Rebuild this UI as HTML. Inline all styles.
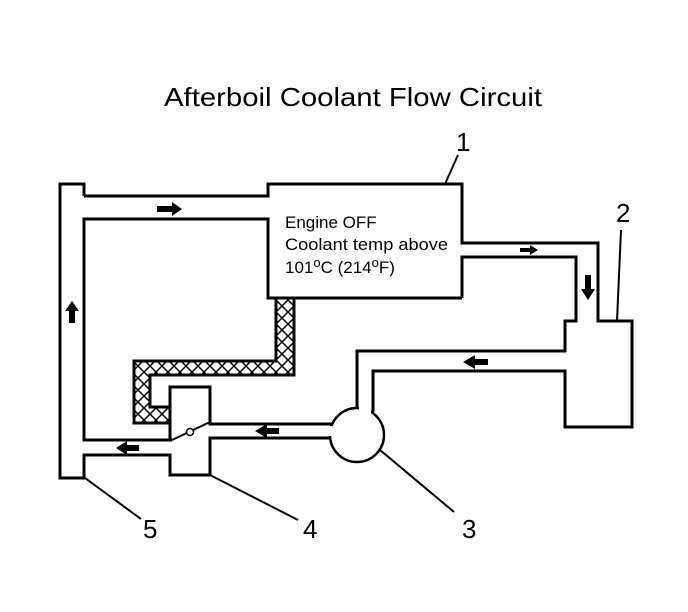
<!DOCTYPE html>
<html><head><meta charset="utf-8"><style>
html,body{margin:0;padding:0;background:#fff;}
svg{display:block;}
text{font-family:"Liberation Sans",Arial,sans-serif;fill:#000;}
</style></head><body>
<svg width="688" height="612" viewBox="0 0 688 612" xmlns="http://www.w3.org/2000/svg">
<defs>
<pattern id="x" width="12" height="12" patternUnits="userSpaceOnUse">
<path d="M0 0L12 12M12 0L0 12" stroke="#000" stroke-width="1.5"/>
</pattern>
</defs>
<text x="164" y="106" font-size="26" textLength="378" lengthAdjust="spacingAndGlyphs">Afterboil Coolant Flow Circuit</text>
<g fill="none" stroke="#000" stroke-width="3" stroke-linejoin="miter">
<path d="M84 196 L268 196 L268 184 L462 184 L462 243 L598 243 L598 321 L632 321 L632 427 L565 427 L565 371 L373 371 L373 412"/>
<path d="M462 298 L268 298 L268 219 L84 219 L84 440 L172 440"/>
<path d="M462 298 L462 257 L576 257 L576 321 L565 321 L565 351 L357 351 L357 410"/>
<path d="M84 196 L84 184 L60 184 L60 478 L84 478 L84 455 L170 455 L170 475 L210 475 L210 438 L332 438"/>
<path d="M332 424 L210 424 L210 387 L170 387 L170 440"/>
<path d="M276 298 L294 298 L294 375 L150 375 L150 407 L170 407 L170 423 L134 423 L134 361 L276 361 Z" fill="url(#x)"/>
</g>
<circle cx="357" cy="435" r="27" fill="#fff" stroke="#000" stroke-width="2.5"/>
<rect x="359" y="406" width="12" height="14" fill="#fff"/>
<rect x="326" y="426" width="10" height="10" fill="#fff"/>
<line x1="172" y1="440" x2="210" y2="422" stroke="#000" stroke-width="2"/>
<circle cx="190" cy="432" r="3.5" fill="#fff" stroke="#000" stroke-width="1.5"/>
<g fill="#000">
<path d="M157 206 L172 206 L172 202 L182 209 L172 216 L172 212 L157 212 Z"/>
<path d="M69 323 L69 311 L65 311 L72 301 L79 311 L75 311 L75 323 Z"/>
<path d="M139 445 L127 445 L127 441 L116 448 L127 455 L127 451 L139 451 Z"/>
<path d="M279 428 L267 428 L267 424 L255 431 L267 438 L267 434 L279 434 Z"/>
<path d="M520 248 L530 248 L530 245 L538 250 L530 255 L530 252 L520 252 Z"/>
<path d="M585 275 L591 275 L591 289 L595 289 L588 300 L581 289 L585 289 Z"/>
<path d="M488 359 L475 359 L475 355 L463 362 L475 369 L475 365 L488 365 Z"/>
</g>
<text x="285" y="228" font-size="17">Engine OFF</text>
<text x="285" y="250" font-size="17" textLength="163" lengthAdjust="spacingAndGlyphs">Coolant temp above</text>
<text x="285" y="273" font-size="17">101<tspan font-size="13" dy="-6">o</tspan><tspan dy="6">C (214</tspan><tspan font-size="13" dy="-6">o</tspan><tspan dy="6">F)</tspan></text>
<g stroke="#000" stroke-width="2">
<line x1="445" y1="184" x2="458" y2="155"/>
<line x1="617" y1="321" x2="621" y2="230"/>
<line x1="380" y1="450" x2="454" y2="512"/>
<line x1="210" y1="475" x2="298" y2="520"/>
<line x1="85" y1="478" x2="141" y2="519"/>
</g>
<g font-size="26">
<text x="456" y="151">1</text>
<text x="616" y="222">2</text>
<text x="462" y="538">3</text>
<text x="303" y="538">4</text>
<text x="143" y="538">5</text>
</g>
</svg>
</body></html>
